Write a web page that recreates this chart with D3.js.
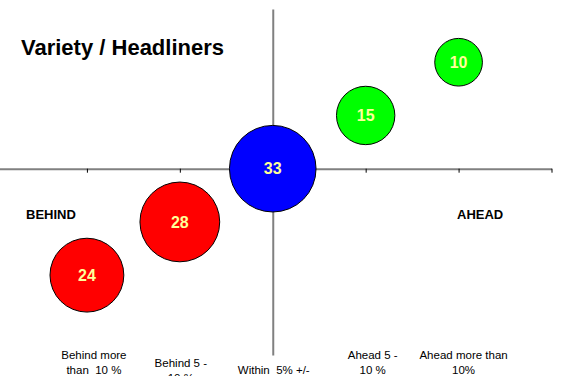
<!DOCTYPE html>
<html>
<head>
<meta charset="utf-8">
<script src="https://cdn.jsdelivr.net/npm/d3@7"></script>
<style>
  html, body { margin: 0; padding: 0; background: #fff; }
  svg { display: block; font-family: Arial, "Liberation Sans", sans-serif; }
</style>
</head>
<body>
<svg id="chart" width="564" height="376"></svg>
<script>
// Performance bands along the horizontal axis
const categories = [
  "Behind more\nthan  10 %",
  "Behind 5 -\n10 %",
  "Within  5% +/-",
  "Ahead 5 -\n10 %",
  "Ahead more than\n10%"
];
const xPos = [1, 2, 3, 4, 5];
const yPos = [-2, -1, 0, 1, 2];
const counts = [24, 28, 33, 15, 10];
const colors = ["#ff0000", "#ff0000", "#0000ff", "#00ff00", "#00ff00"];
const xTicks = [1, 2, 3, 4, 5, 6];

const svg = d3.select("#chart");

const x = d3.scaleLinear().domain([0, 6]).range([-6, 551.5]);
const y = d3.scaleLinear().domain([-3.5, 3]).range([355, 9]);
const r = d3.scaleSqrt().domain([0, 33]).range([0, 43.3]);

// Horizontal axis through y = 0
const xAxis = svg.append("g")
  .attr("transform", `translate(0,${y(0)})`)
  .call(d3.axisBottom(x).tickValues(xTicks).tickSizeInner(4).tickSizeOuter(0).tickFormat(""));
xAxis.select(".domain").attr("stroke", "#808080").attr("stroke-width", 2);
xAxis.selectAll(".tick line").attr("stroke", "#000").attr("stroke-width", 1);

// Vertical axis through x = 3
const yAxis = svg.append("g")
  .attr("transform", `translate(${x(3)},0)`)
  .call(d3.axisLeft(y).tickValues([]).tickSizeOuter(0));
yAxis.select(".domain").attr("stroke", "#808080").attr("stroke-width", 2);

// Bubbles
const pts = counts.map((c, i) => ({ c, x: xPos[i], y: yPos[i], fill: colors[i] }));
const g = svg.append("g");
g.selectAll("circle").data(pts).join("circle")
  .attr("cx", d => x(d.x))
  .attr("cy", d => y(d.y))
  .attr("r", d => r(d.c))
  .attr("fill", d => d.fill)
  .attr("stroke", "#000")
  .attr("stroke-width", 1);
g.selectAll("text").data(pts).join("text")
  .attr("x", d => x(d.x))
  .attr("y", d => y(d.y))
  .attr("dy", "0.36em")
  .attr("text-anchor", "middle")
  .attr("font-size", 16)
  .attr("font-weight", "bold")
  .attr("fill", "#ffff99")
  .text(d => d.c);

// Category captions below the plot
const capDx = [7, 1, 1, 7, 5];
const capBase = [359, 367, 374, 359, 359];
const caps = svg.append("g");
categories.forEach((c, i) => {
  const t = caps.append("text")
    .attr("text-anchor", "middle")
    .attr("font-size", 11.5)
    .attr("fill", "#000");
  c.split("\n").forEach((line, j) => {
    t.append("tspan")
      .attr("x", x(xPos[i]) + capDx[i])
      .attr("y", capBase[i] + j * 15)
      .attr("xml:space", "preserve")
      .style("white-space", "pre")
      .text(line);
  });
});

// Side labels
svg.append("text").attr("x", 26).attr("y", 219)
  .attr("font-size", 13).attr("font-weight", "bold").text("BEHIND");
svg.append("text").attr("x", 457).attr("y", 219)
  .attr("font-size", 13).attr("font-weight", "bold").text("AHEAD");

// Title
svg.append("text").attr("x", 21).attr("y", 55)
  .attr("font-size", 22).attr("font-weight", "bold").text("Variety / Headliners");
</script>
</body>
</html>
